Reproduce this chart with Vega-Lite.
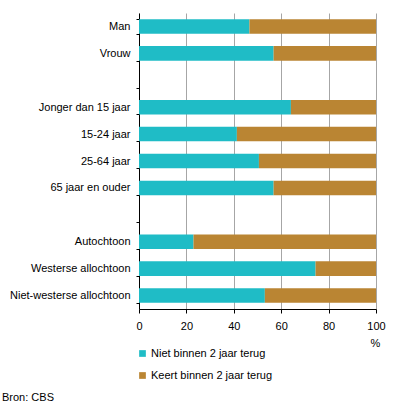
{
  "$schema": "https://vega.github.io/schema/vega-lite/v6.json",
  "autosize": {"type": "none"},
  "padding": {"left": 139, "top": 13, "right": 20, "bottom": 94},
  "width": 237,
  "height": 296,
  "background": "white",
  "config": {
    "font": "Liberation Sans",
    "view": {"stroke": null},
    "axis": {"labelFont": "Liberation Sans", "labelFontSize": 11, "labelColor": "#000000"},
    "legend": {"labelFont": "Liberation Sans", "labelFontSize": 11, "labelColor": "#000000"}
  },
  "title": {
    "text": "Bron: CBS",
    "orient": "top",
    "anchor": "start",
    "frame": "group",
    "dx": -137,
    "dy": 411,
    "offset": 4,
    "baseline": "bottom",
    "fontSize": 11,
    "fontWeight": "normal",
    "font": "Liberation Sans",
    "color": "#000000"
  },
  "data": {
    "values": [
      {"groep": "Man", "reeks": "Niet binnen 2 jaar terug", "pct": 46.6},
      {"groep": "Man", "reeks": "Keert binnen 2 jaar terug", "pct": 53.4},
      {"groep": "Vrouw", "reeks": "Niet binnen 2 jaar terug", "pct": 56.8},
      {"groep": "Vrouw", "reeks": "Keert binnen 2 jaar terug", "pct": 43.2},
      {"groep": "Jonger dan 15 jaar", "reeks": "Niet binnen 2 jaar terug", "pct": 64.1},
      {"groep": "Jonger dan 15 jaar", "reeks": "Keert binnen 2 jaar terug", "pct": 35.9},
      {"groep": "15-24 jaar", "reeks": "Niet binnen 2 jaar terug", "pct": 41.3},
      {"groep": "15-24 jaar", "reeks": "Keert binnen 2 jaar terug", "pct": 58.7},
      {"groep": "25-64 jaar", "reeks": "Niet binnen 2 jaar terug", "pct": 50.6},
      {"groep": "25-64 jaar", "reeks": "Keert binnen 2 jaar terug", "pct": 49.4},
      {"groep": "65 jaar en ouder", "reeks": "Niet binnen 2 jaar terug", "pct": 56.8},
      {"groep": "65 jaar en ouder", "reeks": "Keert binnen 2 jaar terug", "pct": 43.2},
      {"groep": "Autochtoon", "reeks": "Niet binnen 2 jaar terug", "pct": 23.0},
      {"groep": "Autochtoon", "reeks": "Keert binnen 2 jaar terug", "pct": 77.0},
      {"groep": "Westerse allochtoon", "reeks": "Niet binnen 2 jaar terug", "pct": 74.5},
      {"groep": "Westerse allochtoon", "reeks": "Keert binnen 2 jaar terug", "pct": 25.5},
      {"groep": "Niet-westerse allochtoon", "reeks": "Niet binnen 2 jaar terug", "pct": 53.1},
      {"groep": "Niet-westerse allochtoon", "reeks": "Keert binnen 2 jaar terug", "pct": 46.9}
    ]
  },
  "mark": {"type": "bar"},
  "encoding": {
    "y": {
      "field": "groep",
      "type": "nominal",
      "scale": {
        "domain": ["Man", "Vrouw", " ", "Jonger dan 15 jaar", "15-24 jaar", "25-64 jaar", "65 jaar en ouder", "  ", "Autochtoon", "Westerse allochtoon", "Niet-westerse allochtoon"],
        "paddingInner": 0.46,
        "paddingOuter": 0.23
      },
      "axis": {
        "title": null,
        "domainColor": "#000000",
        "tickColor": "#000000",
        "tickSize": 3,
        "tickBand": "extent",
        "labelPadding": 6,
        "grid": false
      }
    },
    "x": {
      "field": "pct",
      "type": "quantitative",
      "stack": "zero",
      "scale": {"domain": [0, 100], "nice": false},
      "axis": {
        "values": [0, 20, 40, 60, 80, 100],
        "title": "%",
        "titleFontSize": 11,
        "titleFontWeight": "normal",
        "titleFont": "Liberation Sans",
        "titleColor": "#000000",
        "titleX": 236,
        "titleY": 34,
        "titleAlign": "center",
        "titleBaseline": "middle",
        "domainColor": "#000000",
        "tickColor": "#000000",
        "tickSize": 4,
        "labelPadding": 7,
        "labelFlush": false,
        "grid": true,
        "gridColor": "#a6a6a6",
        "gridWidth": 1
      }
    },
    "color": {
      "field": "reeks",
      "type": "nominal",
      "scale": {
        "domain": ["Niet binnen 2 jaar terug", "Keert binnen 2 jaar terug"],
        "range": ["#1fbcc6", "#ba8533"]
      },
      "legend": {
        "title": null,
        "orient": "none",
        "legendX": -2,
        "legendY": 335,
        "direction": "vertical",
        "symbolType": "square",
        "symbolSize": 45,
        "symbolStrokeWidth": 0,
        "symbolOffset": 0,
        "labelOffset": 3,
        "rowPadding": 10
      }
    },
    "order": {"field": "reeks", "sort": "descending"}
  }
}
